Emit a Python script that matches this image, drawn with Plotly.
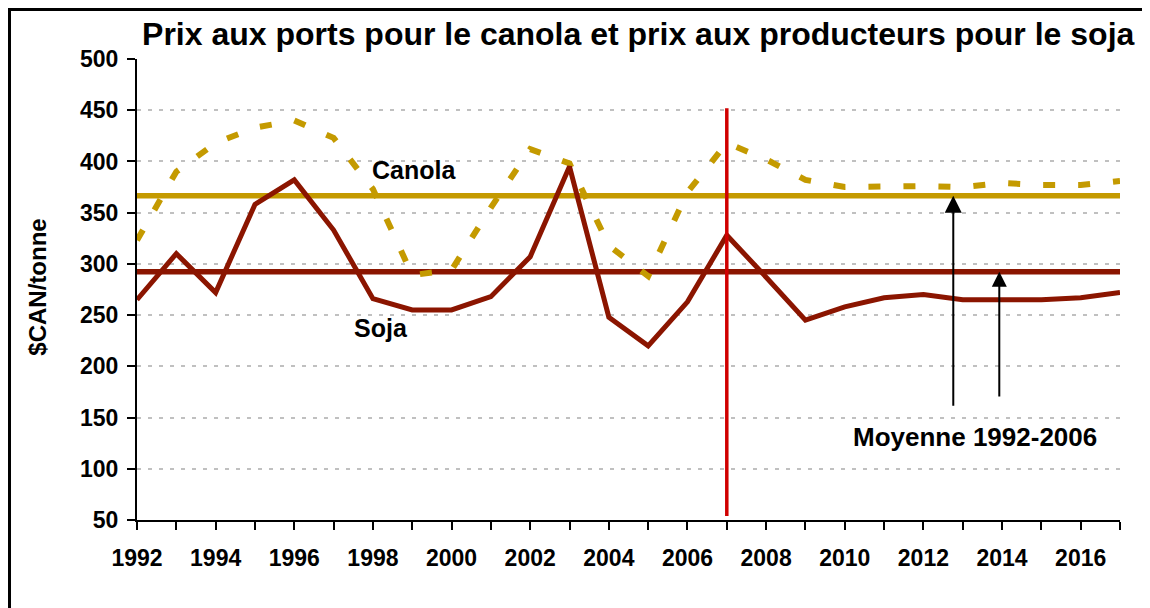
import plotly.graph_objects as go

# --- data ---
years = list(range(1992, 2018))
canola = [323, 390, 418, 433, 440, 423, 373, 289, 294, 355, 412, 398, 318, 288,
          370, 418, 402, 382, 375, 376, 376, 375, 379, 377, 377, 381]
soja = [265, 310, 272, 358, 382, 333, 266, 255, 255, 268, 307, 395, 248, 220,
        263, 328, 287, 245, 258, 267, 270, 265, 265, 265, 267, 272]
canola_avg = 366.6
soja_avg = 292.4
split_year = 2007

GOLD = "#c49a00"
DARKRED = "#8b1500"
FONT = "Arial, Liberation Sans, sans-serif"

fig = go.Figure()

# 1992-2006 averages
fig.add_trace(go.Scatter(x=[years[0], years[-1]], y=[canola_avg] * 2, mode="lines",
                         line=dict(color=GOLD, width=5.5), hoverinfo="skip"))
fig.add_trace(go.Scatter(x=[years[0], years[-1]], y=[soja_avg] * 2, mode="lines",
                         line=dict(color=DARKRED, width=5.5), hoverinfo="skip"))

# price series
fig.add_trace(go.Scatter(x=years, y=canola, mode="lines", name="Canola",
                         line=dict(color=GOLD, width=6, dash="12px,23px")))
fig.add_trace(go.Scatter(x=years, y=soja, mode="lines", name="Soja",
                         line=dict(color=DARKRED, width=5)))

# vertical marker at 2007
fig.add_trace(go.Scatter(x=[split_year, split_year], y=[54, 452], mode="lines",
                         line=dict(color="#d00000", width=3.5), hoverinfo="skip"))

# x tick labels every second year
ticktext = [f"<b>{y}</b>" if y % 2 == 0 else "" for y in years]

fig.update_layout(
    width=1150, height=608,
    margin=dict(l=129, r=38, t=51, b=96),
    paper_bgcolor="white", plot_bgcolor="white",
    showlegend=False,
    font=dict(family=FONT, size=23, color="black"),
    title=dict(text="<b>Prix aux ports pour le canola et prix aux producteurs pour le soja</b>",
               x=0.548, xanchor="center", y=0.958, yanchor="middle",
               font=dict(size=32, family=FONT)),
    xaxis=dict(range=[1992, 2017], tickvals=years, ticktext=ticktext,
               ticks="outside", ticklen=8, tickwidth=2, tickcolor="black",
               showline=True, linecolor="black", linewidth=2,
               showgrid=False, zeroline=False, automargin=False,
               ticklabelstandoff=8,
               tickfont=dict(size=23, family=FONT)),
    yaxis=dict(range=[50, 500], dtick=50, ticks="outside", ticklen=8,
               tickwidth=2, tickcolor="black",
               showline=True, linecolor="black", linewidth=2,
               showgrid=True, gridcolor="#c0c0c0", griddash="4px,7px", gridwidth=2,
               zeroline=False, automargin=False,
               tickprefix="<b>", ticksuffix="</b>", ticklabelstandoff=4,
               tickfont=dict(size=23, family=FONT)),
)

# axis title as an annotation for precise placement
fig.add_annotation(xref="paper", yref="paper", x=-0.1007, y=0.504,
                   xanchor="center", yanchor="middle",
                   text="<b>$CAN/tonne</b>", textangle=-90, showarrow=False,
                   font=dict(size=24, family=FONT))

# text labels
fig.add_annotation(x=1999.05, y=392, text="<b>Canola</b>", showarrow=False,
                   font=dict(size=25, family=FONT))
fig.add_annotation(x=1998.2, y=237, text="<b>Soja</b>", showarrow=False,
                   font=dict(size=25, family=FONT))
fig.add_annotation(x=2013.3, y=131, text="<b>Moyenne 1992-2006</b>", showarrow=False,
                   font=dict(size=26, family=FONT))

# arrows pointing at the averages
fig.add_annotation(x=2012.76, y=canola_avg, ax=2012.76, ay=160,
                   xref="x", yref="y", axref="x", ayref="y", text="",
                   showarrow=True, arrowhead=2, arrowsize=1.7, arrowwidth=2,
                   arrowcolor="black")
fig.add_annotation(x=2013.93, y=soja_avg, ax=2013.93, ay=169,
                   xref="x", yref="y", axref="x", ayref="y", text="",
                   showarrow=True, arrowhead=2, arrowsize=1.5, arrowwidth=2,
                   arrowcolor="black")

# outer frame (right and bottom edges fall outside the picture)
fig.add_shape(type="rect", xref="paper", yref="paper",
              x0=-0.1297, x1=1.2, y0=-0.4, y1=1.1074,
              line=dict(color="black", width=3))

fig.write_html("out.html")
